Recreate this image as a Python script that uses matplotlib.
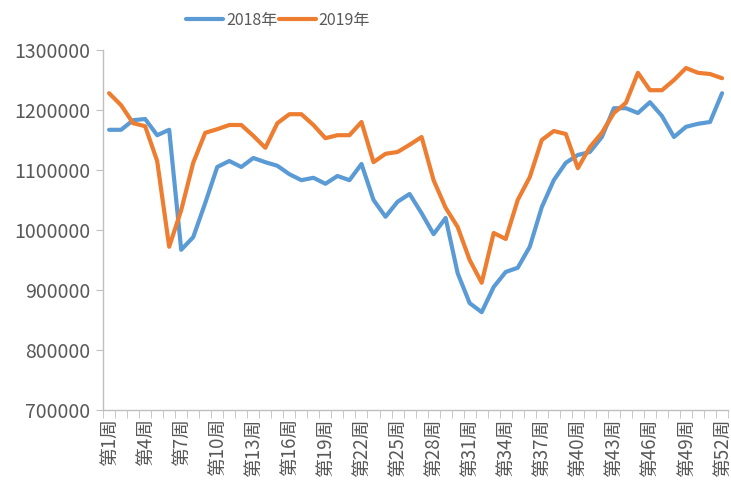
import matplotlib
matplotlib.use("Agg")
import matplotlib.pyplot as plt
import numpy as np

plt.rcParams['font.family'] = ['Noto Sans CJK SC', 'DejaVu Sans']

# weekly values
weeks = [f"第{i}周" for i in range(1, 53)]
y2018 = [1167000, 1167000, 1183000, 1185000, 1158000, 1167000, 967000, 988000,
         1045000, 1105000, 1115000, 1105000, 1120000, 1113000, 1107000, 1093000,
         1083000, 1087000, 1077000, 1090000, 1083000, 1110000, 1050000, 1022000,
         1047000, 1060000, 1028000, 993000, 1020000, 928000, 878000, 863000,
         905000, 930000, 937000, 972000, 1038000, 1083000, 1112000, 1125000,
         1130000, 1155000, 1203000, 1203000, 1195000, 1213000, 1190000, 1155000,
         1172000, 1177000, 1180000, 1228000]
y2019 = [1228000, 1208000, 1178000, 1173000, 1115000, 972000, 1033000, 1112000,
         1162000, 1168000, 1175000, 1175000, 1157000, 1137000, 1178000, 1193000,
         1193000, 1175000, 1153000, 1158000, 1158000, 1180000, 1113000, 1127000,
         1130000, 1142000, 1155000, 1083000, 1037000, 1005000, 950000, 912000,
         995000, 985000, 1050000, 1088000, 1150000, 1165000, 1160000, 1103000,
         1138000, 1162000, 1195000, 1212000, 1262000, 1233000, 1233000, 1250000,
         1270000, 1262000, 1260000, 1253000]
y_ticks = [700000, 800000, 900000, 1000000, 1100000, 1200000, 1300000]

fig = plt.figure(figsize=(7.31, 4.88), dpi=100)
ax = fig.add_axes([0.141, 0.16, 0.855, 0.7375])

x = np.arange(len(weeks))
ax.plot(x, y2018, color='#5B9BD5', linewidth=3, label='2018年', solid_capstyle='round')
ax.plot(x, y2019, color='#ED7D31', linewidth=3, label='2019年', solid_capstyle='round')

ax.set_xlim(-0.5, len(weeks) - 0.5)
ax.set_ylim(700000, 1300000)
ax.set_yticks(y_ticks)
ax.set_yticklabels([str(v) for v in y_ticks])

ax.set_xticks(x[::3])
ax.set_xticklabels(weeks[::3], rotation=90, va='top', ha='center')
ax.set_xticks(np.arange(-0.5, len(weeks)), minor=True)
ax.tick_params(axis='x', which='major', length=0, pad=6, labelsize=13.5, labelcolor='#595959')
ax.tick_params(axis='x', which='minor', length=6, color='#bfbfbf', direction='out')
ax.tick_params(axis='y', length=5, color='#bfbfbf', labelsize=14, labelcolor='#595959', pad=4)

for s in ['top', 'right']:
    ax.spines[s].set_visible(False)
for s in ['left', 'bottom']:
    ax.spines[s].set_color('#bfbfbf')
    ax.spines[s].set_linewidth(1)

leg = ax.legend(loc='center', bbox_to_anchor=(0.28, 1.083), ncol=2, frameon=False,
                fontsize=11.5, handlelength=2.3, handletextpad=0.2, columnspacing=0.1,
                borderpad=0)
for t in leg.get_texts():
    t.set_color('#595959')

fig.savefig('out.png', dpi=100)
